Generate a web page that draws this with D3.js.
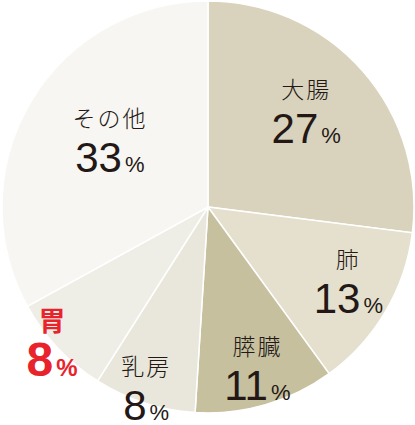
<!DOCTYPE html>
<html>
<head>
<meta charset="utf-8">
<script src="https://cdn.jsdelivr.net/npm/d3@7"></script>
<style>
  body { margin: 0; background: #fff; }
  svg text { font-family: "Liberation Sans", "Noto Sans CJK JP", sans-serif; }
</style>
</head>
<body>
<div id="pie_chart"></div>
<script>
// Data
let sites = ["大腸", "肺", "膵臓", "乳房", "胃", "その他"];
let shares = [27, 13, 11, 8, 8, 33];
let colors = ["#d9d3bd", "#e4e0cd", "#c6c09f", "#e9e7db", "#efeee6", "#f7f6f2"];
let highlight = "胃";

// label distance from the centre, per slice
let labelRadius = [131, 163, 177, 200, 214, 114];

function gen_pie() {
    let width = 415,
        height = 425,
        cx = 208,
        cy = 207,
        r = 206;

    let svg = d3.select("#pie_chart")
        .append("svg")
        .attr("width", width)
        .attr("height", height);

    let g = svg.append("g")
        .attr("transform", "translate(" + cx + "," + cy + ")");

    let pie = d3.pie().sort(null).value(d => d.value);
    let arcs = pie(sites.map((s, i) => ({ name: s, value: shares[i], i: i })));

    let arc = d3.arc().innerRadius(0).outerRadius(r);

    g.selectAll("path")
        .data(arcs)
        .enter().append("path")
        .attr("d", arc)
        .attr("fill", d => colors[d.data.i])
        .attr("stroke", "#fff")
        .attr("stroke-width", 1.5);

    // Labels
    let labels = g.selectAll("g.label")
        .data(arcs)
        .enter().append("g")
        .attr("class", "label")
        .attr("transform", function (d) {
            let a = (d.startAngle + d.endAngle) / 2;
            let lr = labelRadius[d.data.i];
            return "translate(" + (Math.sin(a) * lr) + "," + (-Math.cos(a) * lr) + ")";
        });

    let isHi = d => d.data.name === highlight;

    labels.append("text")
        .attr("text-anchor", "middle")
        .attr("y", -22)
        .attr("fill", d => isHi(d) ? "#e8232c" : "#231815")
        .attr("font-weight", d => isHi(d) ? "bold" : 300)
        .attr("font-size", d => isHi(d) ? 27 : 23)
        .attr("letter-spacing", d => isHi(d) ? 0 : 2)
        .text(d => d.data.name);

    let val = labels.append("text")
        .attr("text-anchor", "middle")
        .attr("y", 23)
        .attr("fill", d => isHi(d) ? "#e8232c" : "#231815")
        .attr("font-weight", d => isHi(d) ? "bold" : "normal");

    val.append("tspan")
        .attr("font-size", d => isHi(d) ? 48 : 42)
        .text(d => d.data.value);

    val.append("tspan")
        .attr("dx", 3)
        .attr("font-size", d => isHi(d) ? 24 : 22)
        .text("%");
}

gen_pie();
</script>
</body>
</html>
